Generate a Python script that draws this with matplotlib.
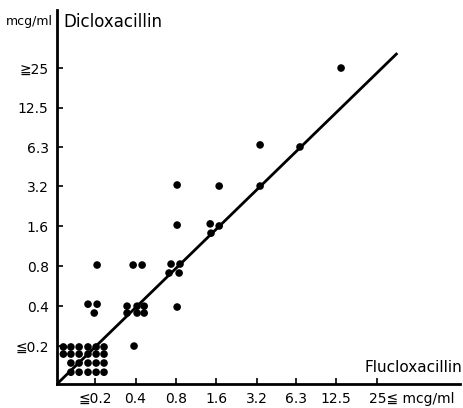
import matplotlib
matplotlib.use("Agg")
import matplotlib.pyplot as plt
import matplotlib.transforms as mtransforms

plt.rcParams['font.family'] = ['DejaVu Sans', 'Noto Sans CJK JP']

# tick values (mcg/ml) and their labels
tick_vals = [0.2, 0.4, 0.8, 1.6, 3.2, 6.3, 12.5, 25]
x_labels = ['≦0.2', '0.4', '0.8', '1.6', '3.2', '6.3', '12.5', '25≦ mcg/ml']
y_labels = ['≦0.2', '0.4', '0.8', '1.6', '3.2', '6.3', '12.5', '≧25']

# MIC pairs (flucloxacillin, dicloxacillin), jittered as drawn
fluclox = [0.116, 0.132, 0.152, 0.177, 0.2035, 0.233,
           0.116, 0.132, 0.152, 0.177, 0.2035, 0.233,
           0.132, 0.152, 0.177, 0.2035, 0.233,
           0.132, 0.152, 0.177, 0.2035, 0.233,
           0.177, 0.207, 0.197, 0.207,
           0.390, 0.346, 0.411, 0.464, 0.346, 0.411, 0.464,
           0.384, 0.448,
           0.817, 0.736, 0.858, 0.711, 0.845, 0.817, 0.817,
           1.44, 1.68, 1.46, 1.68,
           3.39, 3.39, 6.72, 13.6]
diclox = [0.197, 0.197, 0.197, 0.197, 0.197, 0.197,
          0.174, 0.174, 0.174, 0.174, 0.174, 0.174,
          0.149, 0.149, 0.149, 0.149, 0.149,
          0.127, 0.127, 0.127, 0.127, 0.127,
          0.414, 0.414, 0.355, 0.817,
          0.2, 0.4, 0.4, 0.4, 0.355, 0.355, 0.355,
          0.817, 0.817,
          0.394, 0.831, 0.831, 0.711, 0.711, 1.635, 3.28,
          1.67, 1.61, 1.42, 3.22,
          3.22, 6.58, 6.35, 25.0]

# regression line end points
line_x = [0.104, 35.7]
line_y = [0.1035, 32.4]

fig = plt.figure(figsize=(4.63, 4.08), dpi=100)
ax = fig.add_axes([57 / 463, 1 - 384 / 408, 403 / 463, 374 / 408])

ax.plot(line_x, line_y, color='black', lw=2, solid_capstyle='butt', clip_on=True)
ax.scatter(fluclox, diclox, s=30, color='black', edgecolors='none', zorder=3, clip_on=False)

ax.set_xscale('log', base=2)
ax.set_yscale('log', base=2)
ax.set_xlim(0.104, 104.6)
ax.set_ylim(0.1035, 68.5)
ax.minorticks_off()
ax.set_xticks(tick_vals)
ax.set_xticklabels(x_labels, fontsize=10)
ax.set_yticks(tick_vals)
ax.set_yticklabels(y_labels, fontsize=10)
ax.tick_params(direction='in', length=4, width=1.2, pad=6)

# last x label hangs off to the right of its tick
last = ax.get_xticklabels()[-1]
last.set_ha('left')
last.set_transform(last.get_transform() + mtransforms.ScaledTranslation(-8 / 100, 0, fig.dpi_scale_trans))

for side in ['top', 'right']:
    ax.spines[side].set_visible(False)
for side in ['left', 'bottom']:
    ax.spines[side].set_linewidth(2)

fig.text(53 / 463, 1 - 22 / 408, 'mcg/ml', ha='right', va='center', fontsize=9)
fig.text(63 / 463, 1 - 22 / 408, 'Dicloxacillin', ha='left', va='center', fontsize=12)
fig.text(462 / 463, 1 - 372 / 408, 'Flucloxacillin', ha='right', va='baseline', fontsize=11)

fig.savefig('out.png', dpi=100)
